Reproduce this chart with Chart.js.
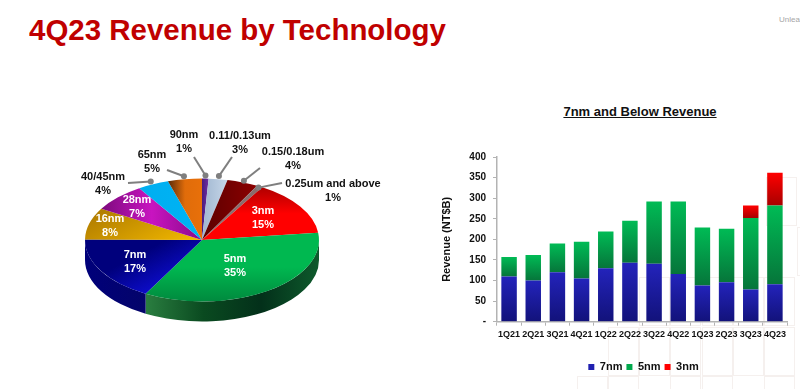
<!DOCTYPE html>
<html>
<head>
<meta charset="utf-8">
<title>4Q23 Revenue by Technology</title>
<script src="https://cdn.jsdelivr.net/npm/chart.js@4/dist/chart.umd.min.js"></script>
<style>
    html, body { margin: 0; padding: 0; background: #fff; overflow: hidden; }
    body { width: 800px; height: 389px; position: relative; font-family: "Liberation Sans", Arial, sans-serif; }
    canvas { position: absolute; }
    #title { position: absolute; left: 29px; top: 13px; font-size: 30px; font-weight: bold; color: #c00000; white-space: nowrap; transform: scaleX(0.982); transform-origin: left; }
    #unleash { position: absolute; left: 779px; top: 15px; font-size: 8px; color: #a6a6a6; white-space: nowrap; }
    #barTitle { position: absolute; left: 440px; width: 400px; top: 104px; text-align: center; font-size: 13px; font-weight: bold; color: #111; text-decoration: underline; }
    #pieChart { left: 0; top: 120px; }
    #barChart { left: 440px; top: 140px; }
    .tile { position: absolute; width: 29px; height: 47px; border: 1px solid #f5f0ee; }
</style>
</head>
<body>
<div id="title">4Q23 Revenue by Technology</div>
<div id="unleash">Unlea</div>
<div id="barTitle">7nm and Below Revenue</div>
<canvas id="pieChart" width="440" height="240"></canvas>
<canvas id="barChart" width="360" height="249"></canvas>

<script>
// Pie data, clockwise from 12 o'clock
const pieLabels = ['90nm', '0.11/0.13um', '0.15/0.18um', '0.25um and above', '3nm', '5nm', '7nm', '16nm', '28nm', '40/45nm', '65nm'];
const pieValues = [0.9, 2.6, 4.3, 0.8, 14.5, 34.9, 17.1, 8.4, 7.5, 4.3, 4.7];
const piePercents = ['1%', '3%', '4%', '1%', '15%', '35%', '17%', '8%', '7%', '4%', '5%'];

// Bar data
const quarters = ['1Q21', '2Q21', '3Q21', '4Q21', '1Q22', '2Q22', '3Q22', '4Q22', '1Q23', '2Q23', '3Q23', '4Q23'];
const rev7nm = [110, 100, 120, 105, 130, 143, 141, 116, 88, 96, 78, 91];
const rev5nm = [47, 62, 70, 89, 89, 102, 151, 176, 141, 130, 174, 191];
const rev3nm = [null, null, null, null, null, null, null, null, null, null, 30, 80];

// gradient stops of each pie slice and the direction they run in
const sliceStyles = [
    { stops: ['#4a1a80', '#7030a0'], dir: [1, 0] },
    { stops: ['#9fb6d0', '#c6d6e8'], dir: [1, 0] },
    { stops: ['#5c0000', '#8c0000'], dir: [1, 0] },
    { stops: ['#8a7272', '#8a6a6a'], dir: [1, 0] },
    { stops: ['#b00000', '#ff0000', '#ff0000'], dir: [0, 1] },
    { stops: ['#008a3e', '#00b850', '#00b850'], dir: [0, -1] },
    { stops: ['#00007c', '#00007c', '#0c0cc8'], dir: [1, 1] },
    { stops: ['#b07c00', '#f5bb00'], dir: [1, 1] },
    { stops: ['#7d0a7d', '#c814c0', '#8a0a8a'], dir: [1, 0] },
    { stops: ['#00aef0', '#00b4f4'], dir: [1, 0] },
    { stops: ['#5a2a08', '#e06c0a', '#e8700a'], dir: [1, 0] }
];
// side wall colours, left to right
const wallColors = { 5: ['#2a7e40', '#0a4a20', '#03301a', '#0e5a2c'], 6: ['#00007a', '#04046a'] };

const pieSquash = 0.525;
const pieDepth = 20;
const darkText = '#111';

// where the text of each slice sits; lead is the outer end of the leader line
const labelSpots = [
    { x: 184, y: 135, lead: [194, 157], tip: 1.05 },
    { x: 240, y: 136, lead: [232, 157], tip: 1.05 },
    { x: 293, y: 152, lead: [260, 168], tip: 1.03 },
    { x: 333, y: 184, lead: [282, 183], tip: 0.98 },
    { x: 263, y: 211 },
    { x: 235, y: 259 },
    { x: 135, y: 255 },
    { x: 110, y: 219 },
    { x: 137, y: 200 },
    { x: 103, y: 177, lead: [128, 183], tip: 1.05 },
    { x: 152, y: 155, lead: [167, 170], tip: 1.05 }
];

// faint tiles of the slide backdrop
const backdropTiles = [
    [766, 177], [797, 227], [639, 277], [670, 277], [702, 277], [733, 277], [764, 277],
    [608, 327], [639, 327], [670, 327], [702, 327], [733, 327], [764, 327],
    [577, 376], [608, 376], [670, 376], [702, 376], [764, 376]
];
backdropTiles.forEach(t => {
    const d = document.createElement('div');
    d.className = 'tile';
    d.style.left = t[0] + 'px';
    d.style.top = t[1] + 'px';
    document.body.insertBefore(d, document.body.firstChild);
});

function sliceGradient(context) {
    const chart = context.chart;
    const style = sliceStyles[context.dataIndex];
    if (!chart.chartArea) return style.stops[0];
    const cx = (chart.chartArea.left + chart.chartArea.right) / 2;
    const cy = (chart.chartArea.top + chart.chartArea.bottom) / 2;
    const r = Math.min(chart.chartArea.width, chart.chartArea.height) / 2;
    const total = pieValues.reduce((a, b) => a + b, 0);
    let before = 0;
    for (let i = 0; i < context.dataIndex; i++) before += pieValues[i];
    const a0 = before / total * Math.PI * 2;
    const a1 = (before + pieValues[context.dataIndex]) / total * Math.PI * 2;
    const len = Math.hypot(style.dir[0], style.dir[1]);
    const ux = style.dir[0] / len, uy = style.dir[1] / len;
    let lo = 0, hi = 0;
    for (let s = 0; s <= 12; s++) {
        const a = a0 + (a1 - a0) * s / 12;
        const along = (Math.sin(a) * ux - Math.cos(a) * uy) * r;
        lo = Math.min(lo, along);
        hi = Math.max(hi, along);
    }
    const g = chart.ctx.createLinearGradient(cx + ux * lo, cy + uy * lo, cx + ux * hi, cy + uy * hi);
    style.stops.forEach((c, k) => g.addColorStop(k / (style.stops.length - 1), c));
    return g;
}

// flattens the pie into an ellipse and puts the side wall under it
const tiltPlugin = {
    id: 'tilt',
    beforeDatasetsDraw(chart) {
        const ctx = chart.ctx;
        const arcs = chart.getDatasetMeta(0).data;
        const cx = arcs[0].x, cy = arcs[0].y, r = arcs[0].outerRadius;
        ctx.save();
        arcs.forEach((arc, i) => {
            if (!wallColors[i]) return;
            const a0 = Math.max(arc.startAngle, 0), a1 = Math.min(arc.endAngle, Math.PI);
            if (a1 <= a0) return;
            const x0 = cx + Math.cos(a1) * r, x1 = cx + Math.cos(a0) * r;
            const g = ctx.createLinearGradient(x0, 0, x1, 0);
            wallColors[i].forEach((c, k) => g.addColorStop(k / (wallColors[i].length - 1), c));
            ctx.fillStyle = g;
            ctx.beginPath();
            ctx.ellipse(cx, cy, r, r * pieSquash, 0, a0, a1);
            ctx.ellipse(cx, cy + pieDepth, r, r * pieSquash, 0, a1, a0, true);
            ctx.closePath();
            ctx.fill();
        });
        ctx.restore();
        ctx.save();
        ctx.translate(0, cy);
        ctx.scale(1, pieSquash);
        ctx.translate(0, -cy);
    },
    afterDatasetsDraw(chart) {
        const ctx = chart.ctx;
        ctx.restore();
        const arcs = chart.getDatasetMeta(0).data;
        const cx = arcs[0].x, cy = arcs[0].y, r = arcs[0].outerRadius;
        const top = chart.canvas.offsetTop;
        ctx.save();
        ctx.textAlign = 'center';
        ctx.textBaseline = 'middle';
        ctx.font = 'bold 11px "Liberation Sans", Arial, sans-serif';
        arcs.forEach((arc, i) => {
            const spot = labelSpots[i];
            if (spot.lead) {
                const mid = (arc.startAngle + arc.endAngle) / 2;
                const tipX = cx + Math.cos(mid) * r * spot.tip;
                const tipY = cy + Math.sin(mid) * r * pieSquash * spot.tip;
                ctx.strokeStyle = '#7f7f7f';
                ctx.fillStyle = '#7f7f7f';
                ctx.lineWidth = 2;
                ctx.beginPath();
                ctx.moveTo(spot.lead[0], spot.lead[1] - top);
                ctx.lineTo(tipX, tipY);
                ctx.stroke();
                ctx.beginPath();
                ctx.arc(tipX, tipY, 3, 0, Math.PI * 2);
                ctx.fill();
            }
            ctx.fillStyle = spot.lead ? darkText : '#fff';
            ctx.fillText(pieLabels[i], spot.x, spot.y - top);
            ctx.fillText(piePercents[i], spot.x, spot.y + 13.5 - top);
        });
        ctx.restore();
    }
};

new Chart(document.getElementById('pieChart'), {
    type: 'pie',
    data: {
        labels: pieLabels,
        datasets: [{
            data: pieValues,
            backgroundColor: sliceGradient,
            borderWidth: 0
        }]
    },
    options: {
        responsive: false,
        animation: false,
        layout: { padding: { left: 0, right: 36, top: 3, bottom: 3 } },
        plugins: { legend: { display: false }, tooltip: { enabled: false } }
    },
    plugins: [tiltPlugin]
});

function barGradient(dark, bright) {
    return function (context) {
        const chart = context.chart;
        const y = chart.scales.y;
        const raw = context.raw;
        if (!chart.chartArea || !y || raw == null) return bright;
        const stack = [rev7nm, rev5nm, rev3nm];
        let base = 0;
        for (let i = 0; i < context.datasetIndex; i++) base += stack[i][context.dataIndex] || 0;
        const g = chart.ctx.createLinearGradient(0, y.getPixelForValue(base), 0, y.getPixelForValue(base + raw));
        g.addColorStop(0, dark);
        g.addColorStop(1, bright);
        return g;
    };
}

const legendSwatches = ['#2020b0', '#00a84c', '#ff0000'];

// legend sits right of the plot centre and lower than the layout leaves it
const legendNudge = {
    id: 'legendNudge',
    afterLayout(chart) {
        const l = chart.legend;
        l.left += 30;
        l.right += 30;
        l.top += 15;
        l.bottom += 15;
    }
};

new Chart(document.getElementById('barChart'), {
    type: 'bar',
    data: {
        labels: quarters,
        datasets: [
            { label: '7nm', data: rev7nm, backgroundColor: barGradient('#12127a', '#2323bb') },
            { label: '5nm', data: rev5nm, backgroundColor: barGradient('#06753a', '#00bb55') },
            { label: '3nm', data: rev3nm, backgroundColor: barGradient('#a80000', '#ff0000') }
        ]
    },
    options: {
        responsive: false,
        animation: false,
        categoryPercentage: 0.64,
        barPercentage: 1,
        layout: { padding: { top: 17, right: 13, left: 0, bottom: 21.5 } },
        scales: {
            x: {
                stacked: true,
                border: { color: '#b3b3b3', width: 1.5 },
                grid: { drawOnChartArea: false, offset: true, color: '#b3b3b3', tickLength: 4 },
                ticks: { color: '#111', font: { size: 9, weight: 'bold', family: '"Liberation Sans"' }, maxRotation: 0, autoSkip: false, padding: 3 }
            },
            y: {
                stacked: true,
                min: 0,
                max: 400,
                border: { color: '#b3b3b3', width: 1.5 },
                grid: { drawOnChartArea: false, color: '#b3b3b3', tickLength: 4 },
                ticks: {
                    stepSize: 50,
                    color: '#111',
                    font: { size: 10, weight: 'bold', family: '"Liberation Sans"' },
                    padding: 7,
                    callback: v => v === 0 ? '-' : v
                },
                title: { display: true, text: 'Revenue (NT$B)', color: '#111', font: { size: 11, weight: 'bold', family: '"Liberation Sans"' }, padding: 0 },
                afterFit(scale) { scale.width = 57; }
            }
        },
        plugins: {
            tooltip: { enabled: false },
            legend: {
                position: 'bottom',
                labels: {
                    boxWidth: 6,
                    boxHeight: 6,
                    padding: 4,
                    color: '#111',
                    font: { size: 11, weight: 'bold', family: '"Liberation Sans"' },
                    generateLabels: chart => chart.data.datasets.map((d, i) => ({
                        text: d.label,
                        fillStyle: legendSwatches[i],
                        strokeStyle: legendSwatches[i],
                        lineWidth: 0,
                        fontColor: '#111',
                        datasetIndex: i
                    }))
                }
            }
        }
    },
    plugins: [legendNudge]
});
</script>
</body>
</html>
